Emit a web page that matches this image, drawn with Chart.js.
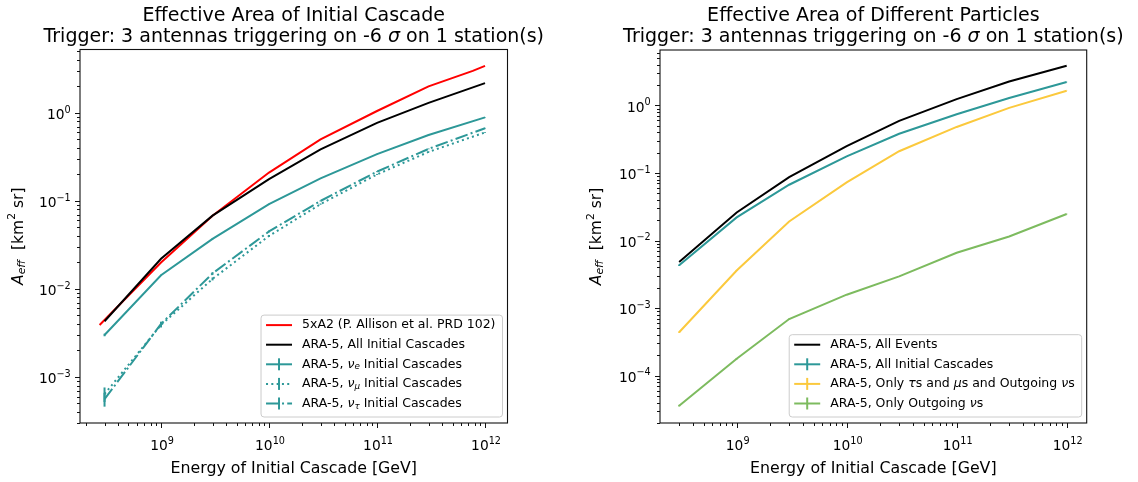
<!DOCTYPE html>
<html>
<head>
<meta charset="utf-8">
<script src="https://cdn.jsdelivr.net/npm/chart.js@4.4.0/dist/chart.umd.min.js"></script>
<style>
    html, body { margin: 0; padding: 0; background: #fff; }
    #wrap { position: relative; width: 1138px; height: 482px; }
    canvas { position: absolute; top: 0; }
</style>
</head>
<body>
<div id="wrap">
    <canvas id="leftChart" width="570" height="482" style="left:0"></canvas>
    <canvas id="rightChart" width="568" height="482" style="left:570px"></canvas>
</div>
<script>
// Energies of the simulated points (GeV)
const energies = [3e8, 1e9, 3e9, 1e10, 3e10, 1e11, 3e11, 1e12];

// Left panel: effective area of the initial cascade (km^2 sr)
const a2Energies = [2.7e8, 1e9, 3e9, 1e10, 3e10, 1e11, 3e11, 7.7e11, 1e12];
const a2Values = [3.9e-3, 0.020, 0.068, 0.21, 0.50, 1.05, 2.0, 3.0, 3.42];
const allCascades = [4.3e-3, 0.022, 0.068, 0.177, 0.385, 0.77, 1.30, 2.18];
const nuE = [3.0e-3, 0.0143, 0.037, 0.092, 0.18, 0.34, 0.56, 0.89];
const nuEErr = [1e-4, 2e-4, 4e-4, 8e-4, 1.5e-3, 2.5e-3, 4e-3, 6e-3];
const nuMu = [6.4e-4, 3.9e-3, 0.013, 0.040, 0.092, 0.20, 0.36, 0.60];
const nuMuErr = [1.2e-4, 2.5e-4, 5e-4, 1e-3, 1.5e-3, 2.5e-3, 4e-3, 6e-3];
const nuTau = [5.6e-4, 4.0e-3, 0.015, 0.045, 0.100, 0.215, 0.39, 0.67];
const nuTauErr = [1e-4, 2.5e-4, 5e-4, 1e-3, 1.5e-3, 2.5e-3, 4e-3, 6e-3];

// Right panel: effective area of different particles (km^2 sr)
const allEvents = [4.8e-3, 0.026, 0.087, 0.25, 0.59, 1.24, 2.26, 3.87];
const cascades = [4.3e-3, 0.022, 0.067, 0.176, 0.38, 0.74, 1.29, 2.22];
const cascadesErr = [1e-4, 3e-4, 6e-4, 1e-3, 2e-3, 3e-3, 5e-3, 8e-3];
const tauMu = [4.4e-4, 3.6e-3, 0.0192, 0.0727, 0.21, 0.48, 0.92, 1.65];
const tauMuErr = [1e-5, 6e-5, 2e-4, 5e-4, 1e-3, 2e-3, 4e-3, 6e-3];
const outNu = [3.6e-5, 1.78e-4, 6.9e-4, 1.58e-3, 2.95e-3, 6.6e-3, 0.0115, 0.0247];
const outNuErr = [1e-6, 4e-6, 1e-5, 2e-5, 4e-5, 8e-5, 1.2e-4, 2e-4];

const FONT = '"DejaVu Sans"';
const RED = '#ff0000';
const BLACK = '#000000';
const TEAL = '#2d9898';
const YELLOW = '#fbc93d';
const GREEN = '#7dbb5f';

Chart.defaults.font.family = FONT;
Chart.defaults.color = '#000';

const pairs = (xs, ys) => xs.map((x, i) => ({ x: x, y: ys[i] }));

function decadeTicks(min, max) {
    const out = [];
    for (let e = Math.ceil(Math.log10(min) - 1e-9); e <= Math.floor(Math.log10(max) + 1e-9); e++) {
        out.push({ value: Math.pow(10, e) });
    }
    return out;
}

// "10^n" as pieces for the rich text helper (minus sign like mathtext)
const powSegs = v => {
    const e = Math.round(Math.log10(v));
    return [{ t: '10' }, { t: (e < 0 ? '\u2212' : '') + Math.abs(e), sup: 1 }];
};

// draws a run of text pieces (italic / subscript / superscript)
function richFont(seg, size) {
    const s = (seg.sub || seg.sup) ? size * 0.7 : size;
    return (seg.it ? 'italic ' : '') + s + 'px ' + FONT;
}
function richWidth(ctx, segs, size) {
    let w = 0;
    segs.forEach(seg => { ctx.font = richFont(seg, size); w += ctx.measureText(seg.t).width; });
    return w;
}
function drawRich(ctx, segs, x, y, size, align, supRise) {
    const w = richWidth(ctx, segs, size);
    let cx = x;
    if (align === 'center') cx = x - w / 2;
    if (align === 'right') cx = x - w;
    ctx.textAlign = 'left';
    segs.forEach(seg => {
        ctx.font = richFont(seg, size);
        let dy = 0;
        if (seg.sub) dy = size * 0.22;
        if (seg.sup) dy = -size * (supRise || 0.38);
        ctx.fillText(seg.t, cx, y + dy);
        cx += ctx.measureText(seg.t).width;
    });
}

const TICK_SIZE = 13.8;

function makeDecor(setup) {
    return {
        id: 'mplDecor',
        afterDatasetsDraw(chart) {
            // vertical error bars
            const ctx = chart.ctx, xs = chart.scales.x, ys = chart.scales.y;
            ctx.save();
            chart.data.datasets.forEach(ds => {
                if (!ds.errs) return;
                ctx.strokeStyle = ds.borderColor;
                ctx.lineWidth = 2;
                ctx.setLineDash([]);
                ds.data.forEach((p, i) => {
                    const px = xs.getPixelForValue(p.x);
                    ctx.beginPath();
                    ctx.moveTo(px, ys.getPixelForValue(p.y - ds.errs[i]));
                    ctx.lineTo(px, ys.getPixelForValue(p.y + ds.errs[i]));
                    ctx.stroke();
                });
            });
            ctx.restore();
        },
        afterDraw(chart) {
            const ctx = chart.ctx, a = chart.chartArea, xs = chart.scales.x, ys = chart.scales.y;
            ctx.save();
            // frame
            ctx.strokeStyle = '#111';
            ctx.lineWidth = 1.1;
            ctx.strokeRect(a.left, a.top, a.right - a.left, a.bottom - a.top);
            // major + minor ticks
            ctx.lineWidth = 1;
            ctx.beginPath();
            for (let e = Math.floor(Math.log10(xs.min)); e <= Math.ceil(Math.log10(xs.max)); e++) {
                for (let k = 1; k <= 9; k++) {
                    const v = k * Math.pow(10, e);
                    if (v < xs.min || v > xs.max) continue;
                    const px = Math.round(xs.getPixelForValue(v)) + 0.5;
                    ctx.moveTo(px, a.bottom);
                    ctx.lineTo(px, a.bottom + (k === 1 ? 5 : 3));
                }
            }
            for (let e = Math.floor(Math.log10(ys.min)); e <= Math.ceil(Math.log10(ys.max)); e++) {
                for (let k = 1; k <= 9; k++) {
                    const v = k * Math.pow(10, e);
                    if (v < ys.min || v > ys.max) continue;
                    const py = Math.round(ys.getPixelForValue(v)) + 0.5;
                    ctx.moveTo(a.left, py);
                    ctx.lineTo(a.left - (k === 1 ? 5 : 3), py);
                }
            }
            ctx.stroke();

            // decade tick labels with raised exponents
            ctx.fillStyle = '#000';
            ctx.textBaseline = 'alphabetic';
            xs.ticks.forEach(t => {
                drawRich(ctx, powSegs(t.value), xs.getPixelForValue(t.value) + 1, a.bottom + 27.2, TICK_SIZE, 'center', 0.47);
            });
            ys.ticks.forEach(t => {
                drawRich(ctx, powSegs(t.value), a.left - 9.3, ys.getPixelForValue(t.value) + 6.2, TICK_SIZE, 'right', 0.47);
            });

            // titles
            const cx = (a.left + a.right) / 2;
            drawRich(ctx, setup.title1, cx, 20.5, 19, 'center');
            drawRich(ctx, setup.title2, cx, 42, 19, 'center');

            // y axis title (rotated)
            ctx.save();
            ctx.translate(setup.yTitleX, (a.top + a.bottom) / 2);
            ctx.rotate(-Math.PI / 2);
            ctx.textBaseline = 'middle';
            drawRich(ctx, [{ t: 'A', it: 1 }, { t: 'eff', it: 1, sub: 1 }, { t: '  [km' }, { t: '2', sup: 1 }, { t: ' sr]' }], 0, 0, 15.5, 'center');
            ctx.restore();

            // legend
            const sets = chart.data.datasets;
            const size = 12.5, rowH = 19.6;
            let maxW = 0;
            sets.forEach(ds => { maxW = Math.max(maxW, richWidth(ctx, ds.legendSegs, size)); });
            const bw = 41 + maxW + 7;
            const bh = 10 + (sets.length - 1) * rowH + 13.5;
            const bx = a.right - 5 - bw, by = a.bottom - 6 - bh;
            ctx.beginPath();
            ctx.roundRect(bx, by, bw, bh, 3);
            ctx.fillStyle = 'rgba(255,255,255,0.8)';
            ctx.fill();
            ctx.strokeStyle = '#cccccc';
            ctx.lineWidth = 1;
            ctx.stroke();
            sets.forEach((ds, i) => {
                const ry = by + 10 + i * rowH;
                ctx.strokeStyle = ds.borderColor;
                ctx.lineWidth = 2;
                ctx.setLineDash(ds.borderDash || []);
                ctx.beginPath();
                ctx.moveTo(bx + 5, ry);
                ctx.lineTo(bx + 31, ry);
                ctx.stroke();
                ctx.setLineDash([]);
                if (ds.errs) {
                    ctx.beginPath();
                    ctx.moveTo(bx + 18, ry - 6);
                    ctx.lineTo(bx + 18, ry + 6);
                    ctx.stroke();
                }
                ctx.fillStyle = '#000';
                ctx.textBaseline = 'middle';
                drawRich(ctx, ds.legendSegs, bx + 41, ry, size, 'left');
            });
            ctx.restore();
        }
    };
}

function buildChart(id, setup, datasets) {
    const n = datasets.length;
    datasets.forEach((ds, i) => {
        ds.order = n - 1 - i; // later series on top, as in the original
        ds.borderWidth = 2;
        ds.pointRadius = 0;
        ds.tension = 0;
        ds.fill = false;
    });
    return new Chart(document.getElementById(id), {
        type: 'line',
        data: { datasets: datasets },
        options: {
            responsive: false,
            animation: false,
            events: [],
            layout: { padding: { left: 0, top: setup.area.top, right: setup.width - setup.area.right, bottom: 0 } },
            plugins: { legend: { display: false }, tooltip: { enabled: false }, title: { display: false } },
            scales: {
                x: {
                    type: 'logarithmic',
                    min: setup.xMin, max: setup.xMax,
                    grid: { display: false, drawTicks: false },
                    border: { display: false },
                    afterFit: s => { s.height = setup.height - setup.area.bottom; },
                    afterBuildTicks: s => { s.ticks = decadeTicks(s.min, s.max); },
                    ticks: { display: false },
                    title: { display: true, text: 'Energy of Initial Cascade [GeV]', font: { size: 15.8 }, color: '#000', padding: { top: 0, bottom: 3.5 } }
                },
                y: {
                    type: 'logarithmic',
                    min: setup.yMin, max: setup.yMax,
                    grid: { display: false, drawTicks: false },
                    border: { display: false },
                    afterFit: s => { s.width = setup.area.left; },
                    afterBuildTicks: s => { s.ticks = decadeTicks(s.min, s.max); },
                    ticks: { display: false }
                }
            }
        },
        plugins: [makeDecor(setup)]
    });
}

const trigger = [{ t: 'Trigger: 3 antennas triggering on -6 ' }, { t: 'σ', it: 1 }, { t: ' on 1 station(s)' }];

buildChart('leftChart', {
    width: 570, height: 482,
    area: { left: 80, right: 507.5, top: 49.5, bottom: 423 },
    xMin: Math.pow(10, 8.25), xMax: Math.pow(10, 12.208),
    yMin: Math.pow(10, -3.5), yMax: Math.pow(10, 0.72),
    yTitleX: 18.5,
    title1: [{ t: 'Effective Area of Initial Cascade' }],
    title2: trigger
}, [
    { label: '5xA2', data: pairs(a2Energies, a2Values), borderColor: RED,
      legendSegs: [{ t: '5xA2 (P. Allison et al. PRD 102)' }] },
    { label: 'All', data: pairs(energies, allCascades), borderColor: BLACK,
      legendSegs: [{ t: 'ARA-5, All Initial Cascades' }] },
    { label: 'nu_e', data: pairs(energies, nuE), borderColor: TEAL, errs: nuEErr,
      legendSegs: [{ t: 'ARA-5, ' }, { t: 'ν', it: 1 }, { t: 'e', it: 1, sub: 1 }, { t: ' Initial Cascades' }] },
    { label: 'nu_mu', data: pairs(energies, nuMu), borderColor: TEAL, errs: nuMuErr, borderDash: [2, 3.3],
      legendSegs: [{ t: 'ARA-5, ' }, { t: 'ν', it: 1 }, { t: 'μ', it: 1, sub: 1 }, { t: ' Initial Cascades' }] },
    { label: 'nu_tau', data: pairs(energies, nuTau), borderColor: TEAL, errs: nuTauErr, borderDash: [12.8, 3.2, 2, 3.2],
      legendSegs: [{ t: 'ARA-5, ' }, { t: 'ν', it: 1 }, { t: 'τ', it: 1, sub: 1 }, { t: ' Initial Cascades' }] }
]);

buildChart('rightChart', {
    width: 568, height: 482,
    area: { left: 90, right: 516.7, top: 50, bottom: 423 },
    xMin: Math.pow(10, 8.303), xMax: Math.pow(10, 12.182),
    yMin: Math.pow(10, -4.70), yMax: Math.pow(10, 0.82),
    yTitleX: 26.7,
    title1: [{ t: 'Effective Area of Different Particles' }],
    title2: trigger
}, [
    { label: 'events', data: pairs(energies, allEvents), borderColor: BLACK,
      legendSegs: [{ t: 'ARA-5, All Events' }] },
    { label: 'cascades', data: pairs(energies, cascades), borderColor: TEAL, errs: cascadesErr,
      legendSegs: [{ t: 'ARA-5, All Initial Cascades' }] },
    { label: 'taumu', data: pairs(energies, tauMu), borderColor: YELLOW, errs: tauMuErr,
      legendSegs: [{ t: 'ARA-5, Only ' }, { t: 'τ', it: 1 }, { t: 's and ' }, { t: 'μ', it: 1 }, { t: 's and Outgoing ' }, { t: 'ν', it: 1 }, { t: 's' }] },
    { label: 'outnu', data: pairs(energies, outNu), borderColor: GREEN, errs: outNuErr,
      legendSegs: [{ t: 'ARA-5, Only Outgoing ' }, { t: 'ν', it: 1 }, { t: 's' }] }
]);
</script>
</body>
</html>
